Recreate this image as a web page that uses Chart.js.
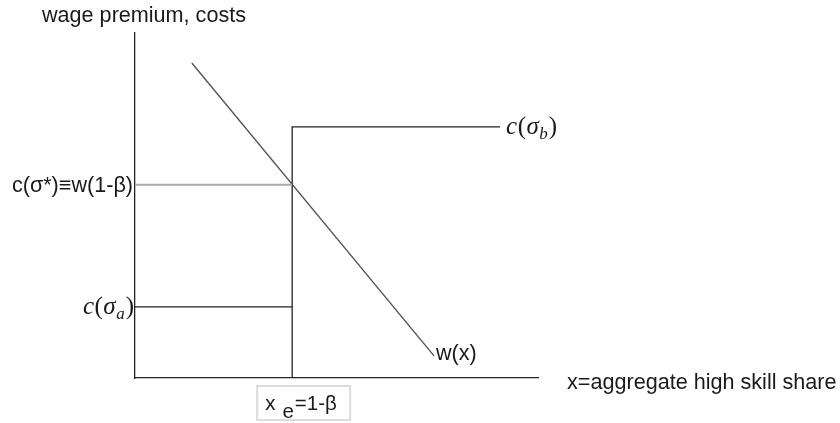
<!DOCTYPE html>
<html>
<head>
<meta charset="utf-8">
<script src="https://cdn.jsdelivr.net/npm/chart.js@4.4.1/dist/chart.umd.min.js"></script>
<style>
  html, body { margin: 0; padding: 0; background: #fff; }
  #wrap { width: 840px; height: 423px; position: relative; }
</style>
</head>
<body>
<div id="wrap"><canvas id="chart" width="840" height="423"></canvas></div>
<script>
// diagram values (x = aggregate high skill share, y = wage premium / costs), both on 0..1
const xE = 0.39;                 // x_e = 1 - beta
const wageX = [0.141, 0.742];    // w(x) endpoints
const wageY = [0.913, 0.064];
const costA = 0.206;             // c(sigma_a)
const costB = 0.728;             // c(sigma_b)
const costStar = 0.56;           // c(sigma*) = w(1-beta)
const costBEnd = 0.906;          // where the c(sigma_b) step ends

const sans = '"Liberation Sans", Arial, sans-serif';
const serif = '"Liberation Serif", "Times New Roman", serif';
const ink = '#1a1a1a';

// draws c(σ_x) in a math style, right or left aligned
function drawMathLabel(ctx, sub, x, y, align) {
    const parts = [
        { t: 'c', f: 'italic 25px ' + serif, dy: 0, gap: 0.5 },
        { t: '(', f: '25px ' + serif, dy: 0, gap: 0.5 },
        { t: 'σ', f: 'italic 25px ' + serif, dy: 0, gap: 0.5 },
        { t: sub, f: 'italic 17px ' + serif, dy: 5, gap: 1 },
        { t: ')', f: '25px ' + serif, dy: 0, gap: 0 }
    ];
    let total = 0;
    parts.forEach(p => { ctx.font = p.f; p.w = ctx.measureText(p.t).width + p.gap; total += p.w; });
    let cx = align === 'right' ? x - total : x;
    ctx.textAlign = 'left';
    ctx.textBaseline = 'alphabetic';
    parts.forEach(p => {
        ctx.font = p.f;
        ctx.fillText(p.t, cx, y + 7 + p.dy);
        cx += p.w;
    });
}

const labelPlugin = {
    id: 'labels',
    afterDraw(chart) {
        const ctx = chart.ctx;
        const xs = chart.scales.x;
        const ys = chart.scales.y;
        const area = chart.chartArea;
        ctx.save();
        ctx.fillStyle = ink;

        // axis titles
        ctx.font = '21.6px ' + sans;
        ctx.textAlign = 'center';
        ctx.textBaseline = 'alphabetic';
        ctx.fillText('wage premium, costs', area.left + 9, 22);
        ctx.textAlign = 'left';
        ctx.fillText('x=aggregate high skill share', area.right + 29, 389);

        // y-side labels
        ctx.textAlign = 'right';
        ctx.textBaseline = 'middle';
        ctx.font = '21.6px ' + sans;
        ctx.fillText('c(σ*)≡w(1-β)', area.left - 2, ys.getPixelForValue(costStar) + 1);
        drawMathLabel(ctx, 'a', area.left - 1, ys.getPixelForValue(costA), 'right');
        drawMathLabel(ctx, 'b', xs.getPixelForValue(costBEnd) + 6, ys.getPixelForValue(costB), 'left');

        // w(x)
        ctx.font = '21.6px ' + sans;
        ctx.textAlign = 'left';
        ctx.textBaseline = 'middle';
        ctx.fillText('w(x)', xs.getPixelForValue(wageX[1]) + 2, ys.getPixelForValue(wageY[1]) - 2);

        // x_e = 1-β in a box
        const px = xs.getPixelForValue(xE);
        ctx.strokeStyle = '#dcdcdc';
        ctx.lineWidth = 2;
        ctx.strokeRect(px - 35, area.bottom + 8, 93, 34);
        ctx.font = '20.5px ' + sans;
        ctx.textBaseline = 'alphabetic';
        let tx = px - 27;
        ctx.fillText('x', tx, area.bottom + 32);
        tx += ctx.measureText('x').width + 7;
        ctx.fillText('e', tx, area.bottom + 40);
        tx += ctx.measureText('e').width + 1;
        ctx.fillText('=1-β', tx, area.bottom + 32);
        ctx.restore();
    }
};

const line = (data, color, width) => ({
    data: data,
    borderColor: color,
    borderWidth: width,
    pointRadius: 0,
    fill: false,
    tension: 0
});

new Chart(document.getElementById('chart'), {
    type: 'line',
    data: {
        datasets: [
            line([{ x: 0, y: costStar }, { x: xE, y: costStar }], '#ababab', 2),
            line([{ x: 0, y: costA }, { x: xE, y: costA }], '#222', 1.3),
            line([{ x: xE, y: 0 }, { x: xE, y: costB }, { x: costBEnd, y: costB }], '#222', 1.3),
            line(wageX.map((x, i) => ({ x: x, y: wageY[i] })), '#555', 1.4)
        ]
    },
    options: {
        responsive: false,
        animation: false,
        layout: { padding: { left: 135, right: 302, top: 33, bottom: 45 } },
        plugins: { legend: { display: false }, tooltip: { enabled: false } },
        elements: { line: { borderCapStyle: 'butt' } },
        clip: false,
        scales: {
            x: {
                type: 'linear', min: 0, max: 1,
                grid: { display: false, drawTicks: false },
                ticks: { display: false },
                border: { display: true, color: '#222', width: 1.3 }
            },
            y: {
                type: 'linear', min: 0, max: 1,
                grid: { display: false, drawTicks: false },
                ticks: { display: false },
                border: { display: true, color: '#222', width: 1.3 }
            }
        }
    },
    plugins: [labelPlugin]
});
</script>
</body>
</html>
